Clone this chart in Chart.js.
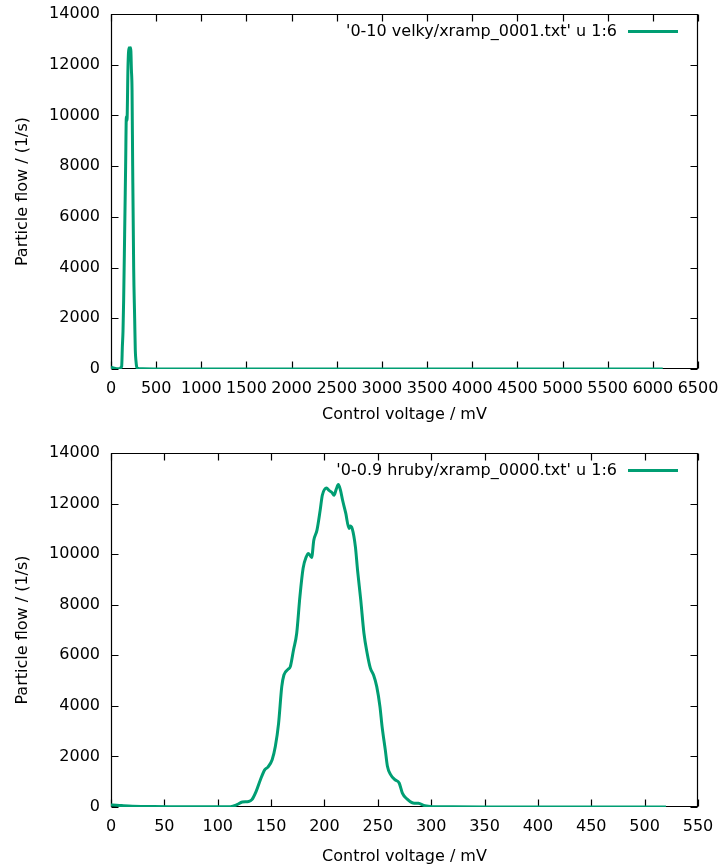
<!DOCTYPE html>
<html><head><meta charset="utf-8">
<script src="https://cdn.jsdelivr.net/npm/chart.js@4.4.1/dist/chart.umd.min.js"></script>
<style>
html,body{margin:0;padding:0;background:#fff;width:723px;height:866px;overflow:hidden}
canvas{position:absolute;left:0}
#c1{top:0}
#c2{top:433px}
</style></head>
<body>
<canvas id="c1" width="723" height="433"></canvas>
<canvas id="c2" width="723" height="433"></canvas>
<script>
// ---- data ----
const topVoltage = [0, 25, 50, 75, 100, 110, 118, 126, 133, 140, 151, 162, 170, 177, 188, 199, 209, 218, 226, 233, 240, 251, 262, 269, 277, 284, 295, 310, 350, 500, 1000, 2000, 3000, 4000, 5000, 6000, 6110];
const topFlow    = [70, 40, 20, 10, 10, 60, 100, 900, 1500, 2700, 5300, 8000, 9950, 9800, 11900, 12670, 12600, 12670, 11800, 11000, 8000, 4000, 2000, 750, 300, 90, 30, 10, 5, 3, 2, 2, 2, 2, 2, 2, 2];

const botVoltage = [0, 5, 10, 20, 30, 40, 60, 80, 100, 112, 118, 123, 129, 132, 136, 140, 144, 147, 151, 154, 157, 160, 162, 166, 168, 171, 174, 177, 180, 183, 185, 188, 190, 193, 196, 198, 202, 204, 207, 209, 211, 213, 215, 217, 220, 223, 224, 226, 229, 231, 234, 237, 240, 243, 246, 249, 252, 254, 257, 259, 262, 266, 270, 273, 277, 283, 288, 294, 301, 320, 350, 400, 450, 500, 520];
const botFlow    = [80, 70, 55, 30, 20, 15, 10, 5, 5, 10, 90, 200, 220, 290, 620, 1080, 1470, 1580, 1870, 2400, 3300, 4760, 5220, 5450, 5550, 6210, 6870, 8320, 9440, 9900, 10030, 9870, 10550, 10950, 11740, 12330, 12620, 12530, 12440, 12330, 12560, 12750, 12530, 12130, 11610, 11010, 11110, 11010, 10290, 9370, 8190, 6870, 6080, 5490, 5220, 4760, 3970, 3180, 2260, 1610, 1280, 1080, 950, 550, 330, 160, 145, 50, 13, 5, 3, 2, 2, 2, 2];

const topXTicks = [0, 500, 1000, 1500, 2000, 2500, 3000, 3500, 4000, 4500, 5000, 5500, 6000, 6500];
const botXTicks = [0, 50, 100, 150, 200, 250, 300, 350, 400, 450, 500, 550];
const yTicks    = [0, 2000, 4000, 6000, 8000, 10000, 12000, 14000];

const topLabel = "'0-10 velky/xramp_0001.txt' u 1:6";
const botLabel = "'0-0.9 hruby/xramp_0000.txt' u 1:6";
const xTitle = 'Control voltage / mV';
const yTitle = 'Particle flow / (1/s)';
const lineColor = '#009e73';

Chart.defaults.font.family = "'DejaVu Sans', sans-serif";
Chart.defaults.font.size = 16;
Chart.defaults.color = '#000';

const framePlugin = {
  id: 'frame',
  beforeDatasetsDraw(chart) {
    const {ctx, chartArea: a, scales} = chart;
    ctx.save();
    ctx.strokeStyle = '#000';
    ctx.lineWidth = 1.2;
    const L = Math.round(a.left) + 0.5, R = Math.round(a.right) - 0.5;
    const T = Math.round(a.top) + 0.5, B = Math.round(a.bottom) - 0.5;
    ctx.beginPath();
    ctx.rect(L, T, R - L, B - T);
    ctx.stroke();
    const tl = 7;
    ctx.beginPath();
    scales.x.ticks.forEach(t => {
      const p = Math.round(scales.x.getPixelForValue(t.value)) + 0.5;
      ctx.moveTo(p, B); ctx.lineTo(p, B - tl);
      ctx.moveTo(p, T); ctx.lineTo(p, T + tl);
    });
    scales.y.ticks.forEach(t => {
      const p = Math.round(scales.y.getPixelForValue(t.value)) + 0.5;
      ctx.moveTo(L, p); ctx.lineTo(L + tl, p);
      ctx.moveTo(R, p); ctx.lineTo(R - tl, p);
    });
    ctx.stroke();
    ctx.restore();
  },
  afterDatasetsDraw(chart) {
    const {ctx, chartArea: a} = chart;
    const ds = chart.data.datasets[0];
    const y = a.top + 17.5;
    ctx.save();
    ctx.font = "16px 'DejaVu Sans', sans-serif";
    ctx.fillStyle = '#000';
    ctx.textAlign = 'right';
    ctx.textBaseline = 'middle';
    ctx.fillText(ds.label, a.right - 81, y);
    ctx.strokeStyle = ds.borderColor;
    ctx.lineWidth = 3;
    ctx.beginPath();
    ctx.moveTo(a.right - 70, y);
    ctx.lineTo(a.right - 20, y);
    ctx.stroke();
    ctx.restore();
  }
};

function makeChart(id, xs, ys, label, xMax, xTickVals, padTop, xAxisH, xTitlePadBottom) {
  const pts = xs.map((x, i) => ({x: x, y: ys[i]}));
  return new Chart(document.getElementById(id), {
    type: 'line',
    data: {datasets: [{label: label, data: pts, borderColor: lineColor, backgroundColor: lineColor,
      borderWidth: 3, pointRadius: 0, tension: 0.3, cubicInterpolationMode: 'monotone', fill: false}]},
    options: {
      responsive: false, animation: false, devicePixelRatio: 1,
      layout: {padding: {left: 0, right: 25, top: padTop, bottom: 0}},
      plugins: {legend: {display: false}, tooltip: {enabled: false}},
      scales: {
        x: {
          type: 'linear', min: 0, max: xMax,
          grid: {display: false, drawTicks: false}, border: {display: false},
          afterBuildTicks: s => { s.ticks = xTickVals.map(v => ({value: v})); },
          afterFit: s => { s.height = xAxisH; s.paddingLeft = 0; s.paddingRight = 0; },
          ticks: {autoSkip: false, maxRotation: 0, minRotation: 0, padding: 10, callback: v => String(v)},
          title: {display: true, text: xTitle, padding: {top: 0, bottom: xTitlePadBottom}}
        },
        y: {
          type: 'linear', min: 0, max: 14000,
          grid: {display: false, drawTicks: false}, border: {display: false},
          afterBuildTicks: s => { s.ticks = yTicks.map(v => ({value: v})); },
          afterFit: s => { s.width = 111; s.paddingTop = 0; s.paddingBottom = 0; },
          ticks: {autoSkip: false, padding: 11, callback: v => String(v)},
          title: {display: true, text: yTitle, padding: {top: 13, bottom: 0}}
        }
      }
    },
    plugins: [framePlugin]
  });
}

makeChart('c1', topVoltage, topFlow, topLabel, 6500, topXTicks, 14, 64, 8.4);
makeChart('c2', botVoltage, botFlow, botLabel, 550, botXTicks, 20, 59, 0);
</script>
</body></html>
